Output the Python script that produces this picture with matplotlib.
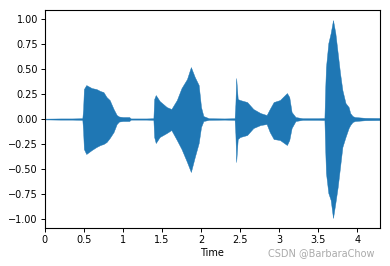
import matplotlib
matplotlib.use("Agg")
import matplotlib.pyplot as plt

# envelope of the waveform (time in s, amplitude)
times = [0, 0.2, 0.35, 0.48, 0.49, 0.50, 0.53, 0.60, 0.66, 0.71, 0.75, 0.79, 0.83, 0.88,
         0.92, 0.95, 1.00, 1.08, 1.10, 1.30, 1.39, 1.40, 1.42, 1.47, 1.56, 1.62, 1.69,
         1.75, 1.82, 1.87, 1.92, 1.97, 2.00, 2.03, 2.10, 2.30, 2.43, 2.44, 2.45, 2.47,
         2.50, 2.59, 2.67, 2.76, 2.84, 2.88, 2.93, 3.01, 3.10, 3.13, 3.16, 3.21, 3.30,
         3.50, 3.58, 3.59, 3.60, 3.63, 3.66, 3.69, 3.72, 3.75, 3.78, 3.81, 3.85, 3.89,
         3.91, 3.94, 3.97, 4.10, 4.29]
upper = [0.004, 0.006, 0.006, 0.008, 0.10, 0.30, 0.34, 0.31, 0.30, 0.28, 0.27, 0.22, 0.19, 0.10,
         0.04, 0.025, 0.02, 0.02, 0.006, 0.006, 0.008, 0.20, 0.24, 0.18, 0.12, 0.10, 0.19,
         0.31, 0.40, 0.52, 0.42, 0.34, 0.12, 0.03, 0.008, 0.006, 0.008, 0.15, 0.41, 0.20,
         0.19, 0.17, 0.10, 0.06, 0.04, 0.10, 0.17, 0.19, 0.26, 0.22, 0.07, 0.02, 0.008,
         0.008, 0.01, 0.30, 0.52, 0.76, 0.86, 0.99, 0.86, 0.66, 0.46, 0.29, 0.16, 0.12,
         0.06, 0.03, 0.02, 0.012, 0.01]
lower = [-0.004, -0.006, -0.006, -0.008, -0.12, -0.30, -0.35, -0.31, -0.28, -0.26, -0.25, -0.23, -0.19, -0.13,
         -0.05, -0.025, -0.02, -0.02, -0.006, -0.006, -0.008, -0.18, -0.24, -0.18, -0.14, -0.11, -0.21,
         -0.30, -0.43, -0.53, -0.38, -0.24, -0.08, -0.02, -0.008, -0.006, -0.008, -0.15, -0.43, -0.20,
         -0.18, -0.16, -0.09, -0.06, -0.05, -0.13, -0.20, -0.21, -0.26, -0.21, -0.09, -0.02, -0.008,
         -0.008, -0.01, -0.30, -0.54, -0.74, -0.81, -0.99, -0.84, -0.68, -0.48, -0.28, -0.18, -0.09,
         -0.06, -0.03, -0.02, -0.012, -0.01]

xticks = [0, 0.5, 1, 1.5, 2, 2.5, 3, 3.5, 4]
xticklabels = ["0", "0.5", "1", "1.5", "2", "2.5", "3", "3.5", "4"]
yticks = [-1.0, -0.75, -0.5, -0.25, 0, 0.25, 0.5, 0.75, 1.0]

fig = plt.figure(figsize=(3.9, 2.66), dpi=100)
ax = fig.add_axes([0.115, 0.143, 0.859, 0.819])

ax.fill_between(times, lower, upper, color="#1f77b4", linewidth=0.3, edgecolor="#1f77b4")

ax.set_xlim(0, 4.29)
ax.set_ylim(-1.09, 1.09)
ax.set_xticks(xticks)
ax.set_xticklabels(xticklabels)
ax.set_yticks(yticks)
ax.set_yticklabels(["%.2f" % v if v >= 0 else "\u2212%.2f" % -v for v in yticks])
ax.tick_params(labelsize=7, length=3, width=0.7, pad=2)
for s in ax.spines.values():
    s.set_linewidth(0.8)
ax.set_xlabel("Time", fontsize=7, labelpad=2)

fig.text(0.96, 0.03, "CSDN @BarbaraChow", fontsize=7, color="#aaaaaa", ha="right", va="bottom")

fig.savefig("out.png", dpi=100)
